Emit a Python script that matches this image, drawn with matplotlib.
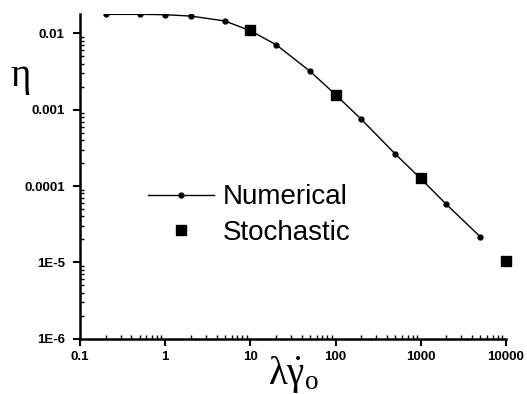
import numpy as np
import matplotlib
matplotlib.use("Agg")
import matplotlib.pyplot as plt
import matplotlib.ticker as mticker

# values
num_x = [0.2, 0.5, 1, 2, 5, 10, 20, 50, 100, 200, 500, 1000, 2000, 5000]
num_y = [0.0177, 0.0177, 0.0175, 0.0168, 0.0145, 0.0108, 0.0071, 0.00319,
         0.00157, 0.00075, 0.000264, 0.000125, 5.76e-5, 2.17e-5]
sto_x = [10, 100, 1000, 10000]
sto_y = [0.0109, 0.00158, 0.000126, 1.05e-5]

xticks = [0.1, 1, 10, 100, 1000, 10000]
xtick_labels = ["0.1", "1", "10", "100", "1000", "10000"]
yticks = [1e-6, 1e-5, 1e-4, 1e-3, 1e-2]
ytick_labels = ["1E-6", "1E-5", "0.0001", "0.001", "0.01"]

plt.rcParams["font.family"] = ["Liberation Sans", "DejaVu Sans"]
plt.rcParams["mathtext.fontset"] = "custom"
plt.rcParams["mathtext.rm"] = "Liberation Serif"
plt.rcParams["mathtext.it"] = "Liberation Serif:italic"

fig = plt.figure(figsize=(5.27, 3.94), dpi=100)
ax = fig.add_axes([0.152, 0.14, 0.808, 0.825])

ax.plot(num_x, num_y, "-", color="black", lw=1.0, marker="o", ms=3.5,
        label="Numerical")
ax.plot(sto_x, sto_y, "s", color="black", ms=6.5, ls="none",
        label="Stochastic", clip_on=False)

ax.set_xscale("log")
ax.set_yscale("log")
ax.set_xlim(0.1, 10000)
ax.set_ylim(1e-6, 0.018)

ax.xaxis.set_major_locator(mticker.FixedLocator(xticks))
ax.xaxis.set_major_formatter(mticker.FixedFormatter(xtick_labels))
ax.yaxis.set_major_locator(mticker.FixedLocator(yticks))
ax.yaxis.set_major_formatter(mticker.FixedFormatter(ytick_labels))
ax.xaxis.set_minor_locator(mticker.LogLocator(base=10, subs=np.arange(2, 10)))
ax.yaxis.set_minor_locator(mticker.LogLocator(base=10, subs=np.arange(2, 10)))
ax.xaxis.set_minor_formatter(mticker.NullFormatter())
ax.yaxis.set_minor_formatter(mticker.NullFormatter())

for side in ["top", "right"]:
    ax.spines[side].set_visible(False)
for side in ["left", "bottom"]:
    ax.spines[side].set_linewidth(1.8)

ax.tick_params(which="major", direction="out", length=5, width=1.5,
               labelsize=9.5)
ax.tick_params(axis="y", which="major", pad=6)
ax.tick_params(which="minor", direction="in", length=3, width=1.0)
for lab in ax.get_xticklabels() + ax.get_yticklabels():
    lab.set_fontweight("bold")

ax.set_ylabel(r"$\mathrm{\eta}$", fontsize=28, rotation=0, va="center")
ax.yaxis.set_label_coords(-0.14, 0.80)
ax.set_xlabel(r"$\mathrm{\lambda\dot{\gamma}_o}$", fontsize=28, labelpad=-6)

ax.legend(loc="center left", bbox_to_anchor=(0.1, 0.38), frameon=False,
          fontsize=20, handlelength=2.4, handletextpad=0.3,
          labelspacing=0.35)

fig.savefig("out.png", dpi=100)
